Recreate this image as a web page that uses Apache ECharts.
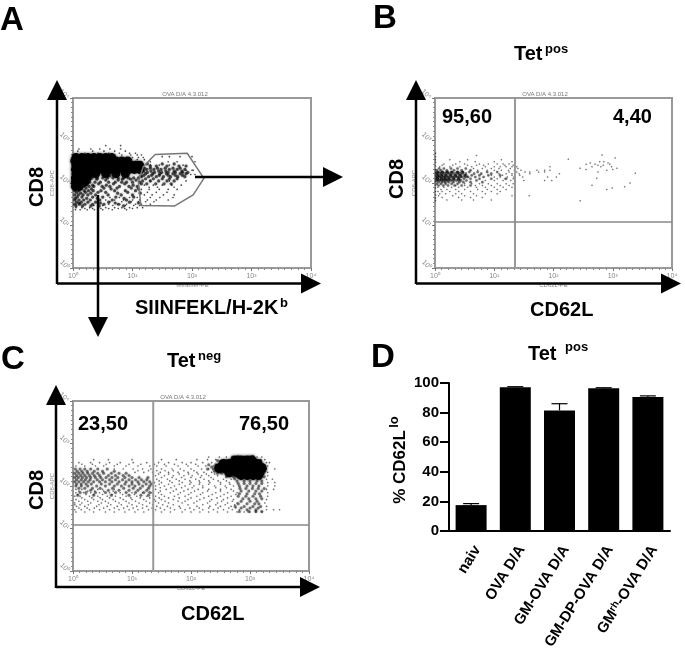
<!DOCTYPE html>
<html><head><meta charset="utf-8">
<script src="https://cdn.jsdelivr.net/npm/echarts@6/dist/echarts.min.js"></script>
<style>html,body{margin:0;background:#fff}#c{width:685px;height:662px}</style></head>
<body><div id="c"></div><script>
// flow panels: values are log10 fluorescence; each row is [y, x, x, ...]
const decadeLabels=['10⁰','10¹','10²','10³','10⁴'];
const aCore=[[2.6,.05,.15,.25,.35,.45,.55,.65],[2.52,.03,.13,.22,.33,.42,.53,.61,.72,.82,.92],[2.42,.05,.14,.24,.35,.46,.57,.66,.76,.86,.97,1.05,1.12],[2.32,.04,.12,.23,.31,.44,.52,.63,.74,.85,.94,1.03,1.12],[2.22,.05,.15,.26,.38,.55,.72,.88],[2.12,.04,.13,.24],[2.02,.04,.13,.2],[1.92,.04,.1]];
const aMid=[[2.12,.32,.41,.5,.58,.67,.76,.85,.93,1.02,1.1],[2.02,.28,.37,.46,.6,.71,.82,.9,1,1.12],[1.92,.18,.27,.35,.49,.62,.78,.94,1.08],[1.82,.03,.1,.19,.26,.34,.47,.7,.88,1.05],[1.72,.03,.09,.17,.25,.38,.59,.81,1],[1.6,.03,.1,.18,.29,.45,.66,.9],[1.5,.03,.11,.2,.33,.52,.77],[2.45,1.25,1.5,1.7],[2.35,1.2,1.3,1.42,1.55,1.68,1.8],[2.25,1.15,1.25,1.37,1.49,1.6,1.72,1.84,1.93],[2.15,1.15,1.27,1.4,1.52,1.64,1.76,1.88],[2.05,1.17,1.3,1.44,1.58,1.7],
[2.17,.35,.62,.9,1.14],[2.07,.24,.55,.76,1.06],[2.09,.4,.83,.97],[1.98,.22,.43,.68,.87,1.15],[1.95,.33,.56,1.01],[1.88,.07,.22,.52,.74,.98],[1.86,.14,.31,.64,1.1],[1.78,.06,.21,.42,.55,.92],[1.76,.13,.3,.75,1.13],[1.67,.07,.15,.33,.5,.72,1.02],[1.64,.04,.23,.41,.86],[1.55,.06,.14,.25,.38,.6,.95],[1.53,.1,.46,.71,1.1],[1.46,.05,.16,.3,.44,.85],
[2.32,1.24,1.36,1.48,1.62,1.75,1.88],[2.28,1.19,1.31,1.44,1.56,1.7,1.83],[2.22,1.22,1.34,1.46,1.57,1.68,1.8,1.9],[2.18,1.19,1.32,1.45,1.6,1.72,1.84],[2.1,1.22,1.35,1.5,1.62,1.75],[2.4,1.3,1.4,1.58,1.78,1.9],[1.98,1.24,1.39,1.53,1.65]];
const aFine=[[2.88,.55,.8],[2.8,.1,.3,.45,.62,.8],[2.7,.2,.42,.6,.78,.95,1.05],[2.6,.9,1,1.1,1.18],[2.5,1.05,1.15,1.3,1.6,1.75,2.05],[2.42,1.3,1.45,1.62,1.85],[2.3,1.9,2,2.02],[2.2,1.98,2.05],[1.95,1.2,1.35,1.5,1.66,1.82],[1.85,1.15,1.28,1.45,1.6,1.75],[1.72,1.2,1.33,1.52,1.7],[1.6,.55,.7,.85,1,1.12,1.25,1.4,1.6],[1.5,.6,.75,.9,1.05,1.15,1.3],[1.42,.05,.15,.28,.42,.55,.7,.82,.95,1.08,1.17],[1.37,.04,.12,.24,.36,.5,.66,.9],
[2.05,1.3,1.62,1.9],[1.9,1.28,1.42,1.7],[1.78,1.12,1.25,1.4,1.58],[1.66,.62,.78,.95,1.08,1.3,1.46,1.68],[1.56,.42,.62,.82,.98,1.1,1.22,1.36],[1.47,.35,.5,.67,.88,1.02,1.12,1.24],[1.4,.2,.33,.47,.6,.76,.87,1],[2.75,.08,.33,.52,.7,.88],[2.66,.82,.97,1.08,1.15],[2.55,.98,1.08,1.2],[2.62,1.5,1.62,1.8,2]];
const aGate=[[1.38,2.67],[1.92,2.7],[2.2,2.11],[2.02,1.72],[1.71,1.46],[1.14,1.47],[1.1,2.03],[1.18,2.38],[1.38,2.67]];
const bCore=[[2.24,.04,.12,.2,.28,.38,.46],[2.16,.04,.11,.18,.26,.34,.42,.52],[2.08,.04,.11,.17,.23,.31,.4]];
const bMid=[[2.3,.03,.1,.2,.32,.45,.6],[2.22,.03,.09,.16,.24,.33,.41,.52,.66,.78,.95],[2.14,.03,.08,.15,.22,.3,.38,.46,.56,.68,.82],[2.06,.03,.08,.14,.2,.27,.36,.44,.53,.7],[1.98,.03,.1,.18,.28,.38],
[2.34,.07,.15,.27,.38,.52],[2.26,.06,.13,.21,.29,.38,.47,.58,.72,.88,1.05],[2.18,.06,.12,.19,.27,.35,.43,.5,.62,.75,.9,1.1],[2.1,.05,.11,.17,.24,.32,.4,.49,.6,.75,.95,1.2],[2.02,.06,.12,.17,.23,.31,.41,.48,.6,.8],[1.94,.06,.14,.22,.33,.45,.6]];
const bFine=[[2.65,.7],[2.55,.25,.55,1.12],[2.45,.15,.35,.5,.75,.9,1.05,1.15,1.25],[2.38,.08,.25,.42,.62,.85,1,1.1,1.2,1.3,1.38],[2.3,.72,.88,1,1.12,1.24,1.34,1.45,1.72,1.85,1.94],[2.22,1.08,1.2,1.3,1.42,1.6,2.1],[2.14,1,1.1,1.22,1.33,1.48,1.9,2.05],[2.06,.85,1,1.15,1.28,1.5,1.85,1.97],[1.98,.5,.62,.75,.9,1.05,1.2,1.32],[1.9,.05,.15,.28,.4,.55,.7,.85,1,1.15,1.3],[1.8,.05,.12,.25,.4,.6,.8,.95,1.1],[1.7,.06,.3,.5,.7,1.3,1.59],[1.6,.2,.45,.65,.95],[2.56,2.25],[2.66,2.82],[2.35,2.45,3.07],[2.47,2.62,2.92],[2.42,2.75,2.84],[2.59,3.04],[2.3,2.9],[2.26,2.75],[2.23,3.38],[2,3.29],[1.91,3.2],[1.88,2.99],[1.85,2.9],[1.58,2.45],[1.95,2.65],[2.11,2.73],[2.38,1.94],
[2.42,.12,.3,.55,.7,.82,1.18,1.32],[2.34,.65,.8,.95,1.08,1.27,1.4],[2.26,1.25,1.38,1.52,1.6,1.75,1.85],[2.18,.95,1.14,1.3,1.43],[2.1,1.05,1.18,1.32],[1.94,.35,.5,.68,.8,.95,1.1,1.25],[1.85,.1,.2,.35,.5,.72,.88,1.05,1.2],[1.75,.08,.18,.35,.45,.65,.85,1.05],[1.66,.12,.4,.6,.8],[2.5,.42,.68,1,1.3],[2.44,2.55,2.7,2.95],[2.38,2.65,2.8,2.98],[2.5,2.78,2.85],[2.32,2.55,3],
[2.7,.01],[2.62,.01],[2.55,.01],[2.48,.01],[2.4,.01],[2.32,.01],[2.25,.01],[2.18,.01],[2.1,.01],[2.03,.01],[1.95,.01],[1.88,.01],[1.8,.01],[1.72,.01],[1.65,.01],[1.58,.01]];
const bQuad=[1.35,1.08];
const cCore=[[2.6,2.75,2.85,2.95,3.03],[2.52,2.55,2.65,2.75,2.85,2.95,3.05,3.13],[2.42,2.48,2.58,2.68,2.78,2.88,2.98,3.08,3.16,3.2],[2.32,2.65,2.78,2.88,2.98,3.08,3.16],[2.26,2.85,2.95,3.05,3.14]];
const cMid=[[2.4,.04,.12,.2,.3,.42,.58],[2.3,.03,.1,.17,.25,.33,.42,.52,.65,.78,.9],[2.2,.03,.09,.16,.23,.3,.38,.47,.56,.66,.76,.88,1,1.12,1.27],[2.1,.03,.1,.18,.26,.35,.45,.55,.66,.78,.9,1,1.1,1.2,1.3],[2,.05,.14,.25,.4,.55,.7,.82,.95,1.05,1.18,1.3],[1.9,.3,.6,.78,.95,1.1,1.25],[2.12,2.78,2.9,3,3.12,3.2],[2,2.82,2.95,3.05,3.15],[1.88,2.85,2.98,3.1,3.2],[1.76,2.8,2.93,3.05,3.18],[1.64,2.85,3,3.12],[1.52,2.75,2.9,3.05,3.18],[1.44,2.95,3.1],[2.68,2.7,2.9,3],[2.45,2.35,2.42,3.25],[2.35,2.4,2.55,3.25],[2.22,2.6,2.72,3.24],
[2.35,.07,.15,.24,.36,.5,.7],[2.25,.06,.13,.2,.28,.36,.45,.6,.72,.85,.95],[2.15,.06,.14,.21,.29,.41,.5,.62,.72,.84,.95,1.06,1.16,1.25],[2.05,.06,.14,.22,.31,.48,.62,.75,.88,1,1.12,1.24,1.33],[1.95,.1,.2,.33,.46,.67,.86,1.02,1.14,1.28],[1.85,.12,.22,.38,.55,.72,.9,1.06,1.2,1.3],[1.78,.08,.35,.65,.95,1.15,1.28],
[2.17,2.74,2.85,2.96,3.06,3.17],[2.06,2.8,2.9,3,3.1,3.2],[1.94,2.83,2.93,3.04,3.14,3.24],[1.82,2.82,2.95,3.08,3.16],[1.7,2.88,2.98,3.1,3.2],[1.58,2.8,2.95,3.08,3.15],[1.48,2.85,3,3.14],[1.4,2.82,2.98,3.1,3.2],
[2.6,2.45,2.6,3.1,3.18],[2.7,2.8,3.05],[2.3,2.45,2.52,2.6,3.22],[2.4,2.28,2.38],[2.5,2.3,2.42,3.22]];
const cFine=[[2.68,2.3,2.48,2.6,3.12,3.2],[2.62,.35,.6,1,1.5,1.75,2.1,2.28,2.42,3.18,3.25],[2.55,.1,.3,.45,.62,.8,1.02,1.25,1.45,1.62,1.85,2,2.2,2.35,3.28,3.33],[2.47,.05,.2,.38,.52,.7,.9,1.1,1.3,1.42,1.58,1.78,1.95,2.12,2.25,2.38,3.3],[2.4,.7,.85,1.02,1.18,1.32,1.5,1.68,1.82,2,2.18,2.3,3.28,3.42],[2.32,1.05,1.2,1.35,1.48,1.62,1.78,1.95,2.1,2.22,2.35,2.5,3.3],[2.24,1.4,1.55,1.7,1.88,2.02,2.18,2.3,2.45,3.3],[2.16,1.42,1.6,1.75,1.9,2.08,2.22,2.38,2.55,2.68,3.28,3.38],[2.08,1.38,1.5,1.68,1.85,2,2.15,2.32,2.5,2.65,3.3,3.42],[2,1.4,1.55,1.72,1.9,2.05,2.2,2.4,2.58,2.72,3.3,3.42],[1.92,.05,.15,.42,.5,.7,1.4,1.58,1.75,1.95,2.12,2.3,2.5,2.68,3.28,3.4],[1.84,.05,.18,.3,.45,.62,.8,1,1.18,1.33,1.45,1.65,1.82,2,2.2,2.42,2.62,2.78,3.3],[1.76,.03,.12,.28,.42,.58,.72,.9,1.08,1.25,1.4,1.55,1.72,1.9,2.1,2.3,2.5,2.68,3.3],[1.68,.05,.2,.35,.5,.68,.85,1,1.2,1.38,1.5,1.7,1.95,2.15,2.35,2.55,2.72,3.28],[1.6,.03,.15,.3,.48,.6,.78,.95,1.12,1.3,1.45,1.62,1.85,2.05,2.28,2.45,2.62,2.78,3.25],[1.52,.06,.2,.4,.58,.75,.92,1.08,1.25,1.42,1.6,1.8,2.1,2.32,2.5,2.68,3.28],[1.44,.03,.14,.28,.45,.62,.78,.95,1.1,1.28,1.4,1.55,1.72,1.9,2.05,2.2,2.38,2.55,2.7,2.82,3.28,3.4,3.5],[1.39,.05,.2,.35,.55,.7,.88,1.05,1.2,1.36,1.5,1.65,1.85,2,2.15,2.3,2.45,2.62,2.78,2.9,3,3.1,3.2],
[2.51,.15,.33,.56,.75,.95,1.15,1.38,1.55,1.72,1.92,2.08],[2.36,1.1,1.28,1.42,1.56,1.7,1.88,2.05],[2.28,1.45,1.62,1.8,1.96,2.12,2.26,2.4],[2.2,1.5,1.68,1.84,2,2.16,2.34],[2.12,1.46,1.64,1.8,1.98,2.14,2.3,2.46,2.6],[2.04,1.46,1.62,1.8,1.98,2.14,2.3,2.5,2.66],[1.96,1.48,1.66,1.84,2.02,2.2,2.42,2.6],[1.88,.1,.25,.37,.52,.68,1.48,1.7,1.88,2.06,2.28,2.5,2.72],[1.8,.08,.22,.35,.5,.66,.84,1.04,1.36,1.5,1.78,1.96,2.16,2.36,2.56,2.76],[1.72,.15,.32,.46,.62,.8,.98,1.14,1.3,1.46,1.62,1.8,2,2.22,2.44,2.62],[1.64,.1,.25,.42,.55,.72,.9,1.06,1.24,1.4,1.56,1.78,1.9,2.1,2.32,2.52,2.7],[1.56,.03,.12,.26,.44,.64,.82,1,1.18,1.35,1.52,1.7,1.95,2.2,2.42,2.58,2.74],[1.48,.1,.24,.36,.52,.7,.86,1.02,1.18,1.34,1.48,1.65,1.82,1.98,2.14,2.3,2.46,2.64,2.76]];
const cQuad=[1.36,1.08];
// bar panel
const barCategories=['naiv','OVA D/A','GM-OVA D/A','GM-DP-OVA D/A','GM^rh-OVA D/A'];
const barValues=[17.5,97.2,81.5,96.5,90.5];
const barUpper=[18.5,97.5,86,96.8,91.3];
const barTicks=[0,20,40,60,80,100];

const FF='"Liberation Sans",Arial,sans-serif';
const rows=r=>r.flatMap(([y,...xs])=>xs.map(x=>[x,y]));
const dots=(i,r,size,op,blur)=>({type:'scatter',xAxisIndex:i,yAxisIndex:i,data:rows(r),symbolSize:size,itemStyle:{color:'#000',opacity:op,shadowBlur:blur,shadowColor:'rgba(0,0,0,.7)'},silent:true,z:2});
const quad=(i,q)=>({type:'line',xAxisIndex:i,yAxisIndex:i,data:[[q[0],0],[q[0],4]],symbol:'none',lineStyle:{color:'#999',width:2},z:3,silent:true});
const quadH=(i,q)=>({type:'line',xAxisIndex:i,yAxisIndex:i,data:[[0,q[1]],[4,q[1]]],symbol:'none',lineStyle:{color:'#888',width:1.5},z:3,silent:true});
const flowX=(i,name)=>({type:'value',gridIndex:i,min:0,max:4,interval:1,name,nameLocation:'middle',nameGap:14,nameTextStyle:{fontSize:6,color:'#888',fontFamily:FF},axisLine:{show:false},splitLine:{show:false},axisTick:{show:true,length:3,lineStyle:{color:'#777'}},minorTick:{show:true,splitNumber:9,length:2,lineStyle:{color:'#888'}},axisLabel:{fontSize:7,color:'#888',margin:5,fontFamily:FF,formatter:v=>decadeLabels[v],showMinLabel:true,showMaxLabel:true}});
const flowY=(i)=>({type:'value',gridIndex:i,min:0,max:4,interval:1,name:'CD8-APC',nameLocation:'middle',nameGap:12,nameTextStyle:{fontSize:6,color:'#888',fontFamily:FF},axisLine:{show:false},splitLine:{show:false},axisTick:{show:true,length:3,lineStyle:{color:'#777'}},minorTick:{show:true,splitNumber:9,length:2,lineStyle:{color:'#888'}},axisLabel:{fontSize:7,color:'#888',margin:5,rotate:-45,fontFamily:FF,formatter:v=>decadeLabels[v],showMinLabel:true,showMaxLabel:true}});
const gridBox=(left,top,width,height)=>({left,top,width,height,show:true,borderColor:'#999',borderWidth:2,backgroundColor:'#fff'});

// annotation helpers (pixel space)
const t=(x,base,text,size,opt={})=>({type:'text',x,y:base-.35*size,z:20,rotation:opt.rot||0,style:{text,fill:opt.fill||'#000',font:`${opt.w||'bold'} ${size}px ${FF}`,align:opt.align||'left',verticalAlign:'middle'}});
const tv=(cx,cy,text,size)=>({type:'text',x:cx,y:cy,z:20,rotation:Math.PI/2,style:{text,fill:'#000',font:`bold ${size}px ${FF}`,align:'center',verticalAlign:'middle'}});
const ln=(x1,y1,x2,y2)=>({type:'line',z:15,shape:{x1,y1,x2,y2},style:{stroke:'#000',lineWidth:2.5}});
const head=(pts)=>({type:'polygon',z:15,shape:{points:pts},style:{fill:'#000'}});
const arrowUp=(x,top,bot)=>[ln(x,bot,x,top+10),head([[x,top],[x-10,top+20],[x+10,top+20]])];
const arrowRight=(x1,y,tip)=>[ln(x1,y,tip-10,y),head([[tip,y],[tip-20,y-10],[tip-20,y+10]])];
const arrowDown=(x,y1,tip)=>[ln(x,y1,x,tip-10),head([[x,tip],[x-10,tip-20],[x+10,tip-20]])];

const graphic=[
 t(0,32,'A',33),t(373,30,'B',33),t(1,371,'C',33),t(371,369,'D',33),
 ...arrowUp(57,80,284),...arrowRight(57,283.5,321),...arrowRight(195,177,343),...arrowDown(98,195,337),
 ...arrowUp(416,80,284),...arrowRight(416,283.5,681),
 ...arrowUp(56,385,588),...arrowRight(56,587,320),
 tv(37,187,'CD8',20),tv(397,179,'CD8',20),tv(37,490,'CD8',20),
 t(135,315,'SIINFEKL/H-2K',20),t(280,308,'b',13),
 t(530,317,'CD62L',20),t(181,621,'CD62L',20),
 t(514,61,'Tet',20),t(545,54,'pos',13),
 t(167,368,'Tet',20),t(198,361,'neg',13),
 t(528,361,'Tet',20),t(565,352,'pos',13),
 t(442,124,'95,60',20),t(613,124,'4,40',20),t(78,431,'23,50',20),t(239,431,'76,50',20),
 t(185,96,'OVA D/A 4.3.012',6,{w:'normal',fill:'#777',align:'center'}),
 t(545,96,'OVA D/A 4.3.012',6,{w:'normal',fill:'#777',align:'center'}),
 t(183,399,'OVA D/A 4.3.012',6,{w:'normal',fill:'#777',align:'center'}),
 tv(400,467,'% CD62L',17),tv(394,422,'lo',13)
];

const chart=echarts.init(document.getElementById('c'),null,{renderer:'canvas'});
chart.setOption({
 animation:false,backgroundColor:'#fff',
 grid:[gridBox(73,98,238,170),gridBox(435,98,237,170),gridBox(73,401,236,170),{left:449,top:383,width:221,height:148}],
 xAxis:[flowX(0,'Tetramer-PE'),flowX(1,'CD62L-PE'),flowX(2,'CD62L-PE'),
  {type:'category',gridIndex:3,data:barCategories,axisLine:{lineStyle:{color:'#000',width:2}},axisTick:{alignWithLabel:true,length:5,lineStyle:{color:'#000',width:2}},
   axisLabel:{rotate:58,margin:12,interval:0,verticalAlign:'top',color:'#000',fontFamily:FF,fontSize:15,
    formatter:v=>{const p=v.split('^');if(p.length<2)return '{n|'+v+'}';const i=p[1].indexOf('-');return '{n|'+p[0]+'}{s|'+p[1].slice(0,i)+'}{n|'+p[1].slice(i)+'}';},
    rich:{n:{fontFamily:FF,fontSize:15,fontWeight:'bold',color:'#000'},s:{fontFamily:FF,fontSize:10,fontWeight:'bold',color:'#000',verticalAlign:'top'}}}}],
 yAxis:[flowY(0),flowY(1),flowY(2),
  {type:'value',gridIndex:3,min:barTicks[0],max:barTicks[barTicks.length-1],interval:barTicks[1]-barTicks[0],splitLine:{show:false},axisLine:{show:true,onZero:false,lineStyle:{color:'#000',width:2}},axisTick:{show:true,length:9,lineStyle:{color:'#000',width:2}},axisLabel:{color:'#000',fontFamily:FF,fontSize:15,fontWeight:'bold',margin:10}}],
 series:[
  dots(0,aFine,1.6,.6,1),dots(0,aMid,3.2,.6,2),dots(0,aCore,9,.95,3),
  {type:'line',xAxisIndex:0,yAxisIndex:0,data:aGate,symbol:'none',lineStyle:{color:'#777',width:1.5},z:3,silent:true},
  dots(1,bFine,1.5,.45,1),dots(1,bMid,2.6,.45,1.5),dots(1,bCore,4,.55,2),quad(1,bQuad),quadH(1,bQuad),
  dots(2,cFine,1.6,.45,1),dots(2,cMid,3,.45,2),dots(2,cCore,10,.97,3),quad(2,cQuad),quadH(2,cQuad),
  {type:'bar',xAxisIndex:3,yAxisIndex:3,data:barValues,barWidth:31,itemStyle:{color:'#000'},silent:true},
  {type:'custom',xAxisIndex:3,yAxisIndex:3,data:barUpper.map((u,i)=>[i,barValues[i],u]),silent:true,z:1,
   renderItem:(p,api)=>{const a=api.coord([api.value(0),api.value(1)]),b=api.coord([api.value(0),api.value(2)]);const s={stroke:'#000',lineWidth:1.2};
    return {type:'group',children:[{type:'line',shape:{x1:a[0],y1:a[1],x2:b[0],y2:b[1]},style:s},{type:'line',shape:{x1:a[0]-8,y1:b[1],x2:a[0]+8,y2:b[1]},style:s}]};}}
 ],
 graphic
});
</script></body></html>
